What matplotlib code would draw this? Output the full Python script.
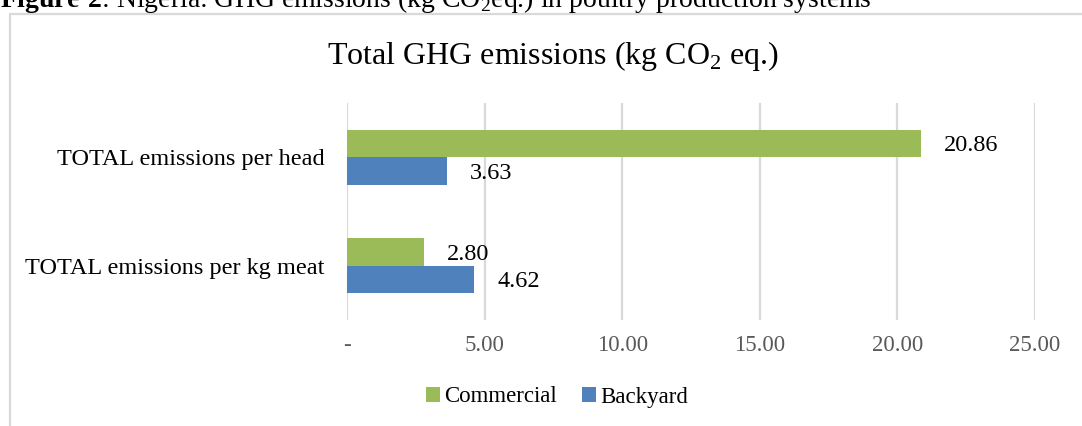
import matplotlib.pyplot as plt
from matplotlib.patches import Rectangle
from matplotlib.ticker import FuncFormatter

plt.rcParams['font.family'] = ['Liberation Serif', 'DejaVu Serif']
plt.rcParams['mathtext.fontset'] = 'custom'
plt.rcParams['mathtext.rm'] = 'Liberation Serif'
plt.rcParams['mathtext.bf'] = 'Liberation Serif:bold'

# data
categories = ['TOTAL emissions per kg meat', 'TOTAL emissions per head']
commercial = [2.80, 20.86]
backyard = [4.62, 3.63]
series_names = ['Commercial', 'Backyard']
x_ticks = [0, 5, 10, 15, 20, 25]

green = '#9BBB59'
blue = '#4F81BD'
grid_col = '#d9d9d9'

W, H = 1082, 426
fig = plt.figure(figsize=(W / 100, H / 100), dpi=100)

# chart frame (right and bottom edges fall outside the crop)
fig.patches.append(Rectangle((10 / W, -0.2), 1.2, 1.2 - 13.5 / H,
                             transform=fig.transFigure, fill=False,
                             edgecolor=grid_col, linewidth=1.6))

# caption at the very top, cut off like in the source page
fig.text(0, 1 - 7 / H, r'$\mathbf{Figure\ 2}$: Nigeria: GHG emissions (kg CO$_2$eq.) in poultry production systems',
         fontsize=20, va='baseline', ha='left')

ax = fig.add_axes([347 / W, 1 - 320 / H, (1035 - 347) / W, (320 - 103) / H])

h = 0.254
ys = list(range(len(categories)))
b1 = ax.barh([y + h / 2 for y in ys], commercial, height=h, color=green, label=series_names[0])
b2 = ax.barh([y - h / 2 for y in ys], backyard, height=h, color=blue, label=series_names[1])

for bars, vals in ((b1, commercial), (b2, backyard)):
    for bar, v in zip(bars, vals):
        ax.annotate(f'{v:.2f}', (v, bar.get_y() + bar.get_height() / 2),
                    xytext=(16.5, -1.5), textcoords='offset points',
                    va='center', ha='left', fontsize=17.5, color='black')

ax.set_xlim(0, 25)
ax.set_ylim(-0.5, 1.5)
ax.set_xticks(x_ticks)
ax.xaxis.set_major_formatter(FuncFormatter(lambda v, p: '-' if v == 0 else f'{v:.2f}'))
ax.set_yticks(ys)
ax.set_yticklabels(categories)
ax.tick_params(axis='x', length=0, pad=11, labelsize=16.5, labelcolor='#595959')
ax.tick_params(axis='y', length=0, pad=16, labelsize=17.5)
ax.grid(axis='x', color=grid_col, linewidth=1.6)
ax.set_axisbelow(True)
for s in ax.spines.values():
    s.set_visible(False)

fig.text(553 / W, 1 - 56 / H, r'Total GHG emissions (kg CO$_2$ eq.)',
         fontsize=23, ha='center', va='center')

fig.legend(handles=[b1, b2], loc='center', bbox_to_anchor=(557 / W, 1 - 397 / H),
           ncol=2, frameon=False, fontsize=16.5, handlelength=0.6, handleheight=0.6,
           handletextpad=0.2, columnspacing=1.1)

fig.savefig('out.png', dpi=100)
